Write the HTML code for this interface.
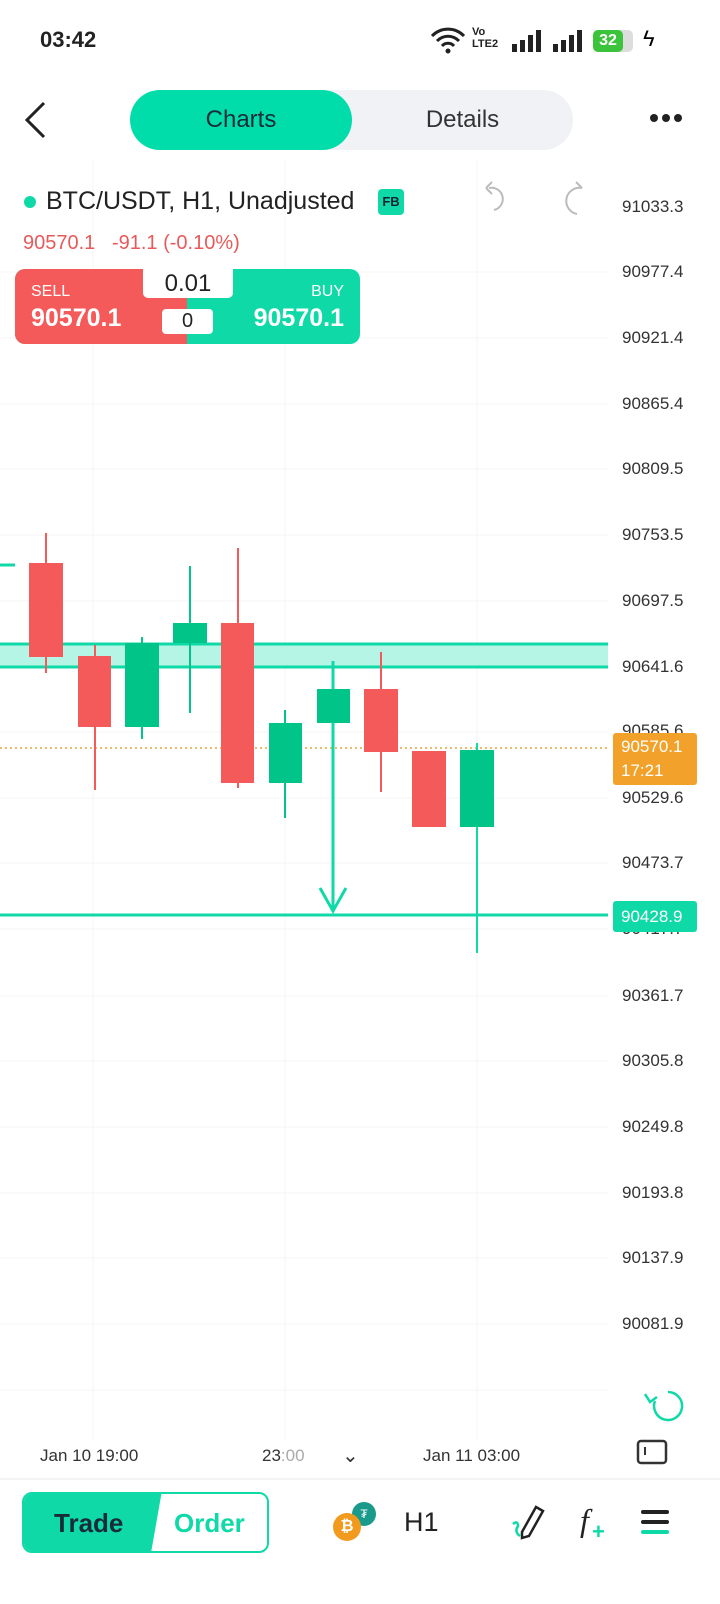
<!DOCTYPE html>
<html><head><meta charset="utf-8"><style>
body{margin:0;width:720px;height:1604px;background:#fff;font-family:"Liberation Sans",sans-serif;position:relative;overflow:hidden}
.a{position:absolute}
.pl{position:absolute;left:622px;font-size:17px;color:#333;line-height:20px}
</style></head><body>
<div class="a" style="left:40px;top:27px;font-size:22px;font-weight:bold;color:#222">03:42</div>
<svg class="a" style="left:430px;top:26px" width="36" height="28"><path d="M2 10 a22 22 0 0 1 32 0 M7 15 a15 15 0 0 1 22 0 M12 20 a8 8 0 0 1 12 0" fill="none" stroke="#222" stroke-width="3"/><circle cx="18" cy="25" r="2.5" fill="#222"/></svg>
<div class="a" style="left:472px;top:26px;font-size:11px;font-weight:bold;color:#222;line-height:12px">Vo<br>LTE2</div>
<div class="a" style="left:512px;top:30px;width:32px;height:22px;display:flex;align-items:flex-end;gap:3px"><i style="width:5px;height:8px;background:#222"></i><i style="width:5px;height:12px;background:#222"></i><i style="width:5px;height:17px;background:#222"></i><i style="width:5px;height:22px;background:#222"></i></div>
<div class="a" style="left:553px;top:30px;width:32px;height:22px;display:flex;align-items:flex-end;gap:3px"><i style="width:5px;height:8px;background:#222"></i><i style="width:5px;height:12px;background:#222"></i><i style="width:5px;height:17px;background:#222"></i><i style="width:5px;height:22px;background:#222"></i></div>
<div class="a" style="left:593px;top:30px;width:40px;height:22px;border-radius:5px;background:#ddd"><div style="width:30px;height:22px;background:#3bc43b;border-radius:5px;color:#fff;font-size:16px;font-weight:bold;text-align:center;line-height:22px">32</div></div>
<div class="a" style="left:643px;top:26px;font-size:22px">ϟ</div>

<svg class="a" style="left:22px;top:100px" width="26" height="40"><path d="M22 3 L5 20 L22 37" fill="none" stroke="#222" stroke-width="3"/></svg>
<div class="a" style="left:130px;top:90px;width:443px;height:60px;border-radius:30px;background:#f0f2f5"></div>
<div class="a" style="left:130px;top:90px;width:222px;height:60px;border-radius:30px;background:#00ddaa;text-align:center;line-height:60px;font-size:24px;color:#1a2b3a">Charts</div>
<div class="a" style="left:352px;top:90px;width:221px;height:60px;text-align:center;line-height:60px;font-size:24px;color:#333">Details</div>
<svg class="a" style="left:648px;top:112px" width="36" height="12"><circle cx="6" cy="6" r="4" fill="#222"/><circle cx="18" cy="6" r="4" fill="#222"/><circle cx="30" cy="6" r="4" fill="#222"/></svg>

<svg class="a" style="left:0;top:160px" width="720" height="1300">
<g stroke="#f5f5f5" stroke-width="1">
<line x1="93" y1="0" x2="93" y2="1280"/><line x1="285" y1="0" x2="285" y2="1280"/><line x1="477" y1="0" x2="477" y2="1280"/>
<line x1="0" y1="112" x2="608" y2="112"/><line x1="0" y1="178" x2="608" y2="178"/><line x1="0" y1="244" x2="608" y2="244"/><line x1="0" y1="309" x2="608" y2="309"/><line x1="0" y1="375" x2="608" y2="375"/><line x1="0" y1="441" x2="608" y2="441"/><line x1="0" y1="507" x2="608" y2="507"/><line x1="0" y1="572" x2="608" y2="572"/><line x1="0" y1="638" x2="608" y2="638"/><line x1="0" y1="703" x2="608" y2="703"/><line x1="0" y1="769" x2="608" y2="769"/><line x1="0" y1="836" x2="608" y2="836"/><line x1="0" y1="901" x2="608" y2="901"/><line x1="0" y1="967" x2="608" y2="967"/><line x1="0" y1="1033" x2="608" y2="1033"/><line x1="0" y1="1098" x2="608" y2="1098"/><line x1="0" y1="1164" x2="608" y2="1164"/><line x1="0" y1="1230" x2="608" y2="1230"/>
</g>
</svg>
<svg class="a" style="left:0;top:0" width="720" height="1480">
<rect x="0" y="644" width="608" height="22" fill="#b5f5e5"/>
<line x1="0" y1="644" x2="608" y2="644" stroke="#10d9a8" stroke-width="3"/>
<line x1="0" y1="667" x2="608" y2="667" stroke="#10d9a8" stroke-width="3"/>
<line x1="0" y1="565" x2="15" y2="565" stroke="#10d9a8" stroke-width="3"/>
<line x1="0" y1="748" x2="608" y2="748" stroke="#e8a33a" stroke-width="1.5" stroke-dasharray="2,3"/>
<line x1="0" y1="915" x2="608" y2="915" stroke="#10d9a8" stroke-width="3"/>
<g stroke-width="2">
<line x1="46" y1="533" x2="46" y2="673" stroke="#f55a5a"/><rect x="29" y="563" width="34" height="94" fill="#f55a5a"/>
<line x1="95" y1="645" x2="95" y2="790" stroke="#f55a5a"/><rect x="78" y="656" width="33" height="71" fill="#f55a5a"/>
<line x1="142" y1="637" x2="142" y2="739" stroke="#00c488"/><rect x="125" y="643" width="34" height="84" fill="#00c488"/>
<line x1="190" y1="566" x2="190" y2="713" stroke="#00c488"/><rect x="173" y="623" width="34" height="20" fill="#00c488"/>
<line x1="238" y1="548" x2="238" y2="788" stroke="#f55a5a"/><rect x="221" y="623" width="33" height="160" fill="#f55a5a"/>
<line x1="285" y1="710" x2="285" y2="818" stroke="#00c488"/><rect x="269" y="723" width="33" height="60" fill="#00c488"/>
<line x1="333" y1="661" x2="333" y2="912" stroke="#10d9a8" stroke-width="3"/><path d="M320 888 L333 911 L346 888" fill="none" stroke="#10d9a8" stroke-width="3"/><rect x="317" y="689" width="33" height="34" fill="#00c488"/>
<line x1="381" y1="652" x2="381" y2="792" stroke="#f55a5a"/><rect x="364" y="689" width="34" height="63" fill="#f55a5a"/>
<rect x="412" y="751" width="34" height="76" fill="#f55a5a"/>
<line x1="477" y1="743" x2="477" y2="953" stroke="#10d9a8"/><rect x="460" y="750" width="34" height="77" fill="#00c488"/>
</g>
<circle cx="30" cy="202" r="6" fill="#10d9a8"/>
<path d="M489 188 a10 10 0 1 1 5 22" fill="none" stroke="#bbb" stroke-width="2"/>
<path d="M486 188 l6 -6 M486 188 l6 6" stroke="#bbb" stroke-width="2"/>
<path d="M582 188 a10 10 0 1 0 -5 26" fill="none" stroke="#bbb" stroke-width="2"/>
<path d="M582 188 l-6 -6" stroke="#bbb" stroke-width="2"/>
<path d="M668 1392 a14 14 0 1 1 -13 9 M645 1394 l5 8 l7 -5" fill="none" stroke="#10d9a8" stroke-width="2.5"/>
<rect x="638" y="1441" width="28" height="22" rx="3" fill="none" stroke="#333" stroke-width="2.5"/><line x1="645" y1="1447" x2="645" y2="1455" stroke="#333" stroke-width="2"/>
</svg>
<div class="a" style="left:46px;top:187px;font-size:25px;color:#222">BTC/USDT, H1, Unadjusted</div>
<div class="a" style="left:378px;top:189px;width:26px;height:26px;background:#10d9a8;border-radius:4px;font-size:13px;font-weight:bold;text-align:center;line-height:26px;color:#123">FB</div>
<div class="a" style="left:23px;top:232px;font-size:20px;color:#e85a5a">90570.1 &nbsp;&nbsp;-91.1 (-0.10%)</div>
<div class="a" style="left:15px;top:269px;width:345px;height:75px;border-radius:10px;overflow:hidden;background:#10d9a8"><div style="width:172px;height:75px;background:#f55a5a"></div></div>
<div class="a" style="left:143px;top:269px;width:90px;height:29px;background:#fff;border-radius:0 0 5px 5px;text-align:center;font-size:24px;line-height:29px;color:#222">0.01</div>
<div class="a" style="left:162px;top:309px;width:51px;height:25px;background:#fff;border-radius:4px;text-align:center;font-size:20px;line-height:25px;color:#222">0</div>
<div class="a" style="left:31px;top:283px;font-size:16px;color:#fff">SELL</div>
<div class="a" style="left:31px;top:304px;font-size:25px;font-weight:bold;color:#fff">90570.1</div>
<div class="a" style="right:376px;top:283px;font-size:16px;color:#fff">BUY</div>
<div class="a" style="right:376px;top:304px;font-size:25px;font-weight:bold;color:#fff">90570.1</div>

<div class="pl" style="top:197px">91033.3</div><div class="pl" style="top:262px">90977.4</div><div class="pl" style="top:328px">90921.4</div><div class="pl" style="top:394px">90865.4</div><div class="pl" style="top:459px">90809.5</div><div class="pl" style="top:525px">90753.5</div><div class="pl" style="top:591px">90697.5</div><div class="pl" style="top:657px">90641.6</div><div class="pl" style="top:721px">90585.6</div><div class="pl" style="top:788px">90529.6</div><div class="pl" style="top:853px">90473.7</div><div class="pl" style="top:919px">90417.7</div><div class="pl" style="top:986px">90361.7</div><div class="pl" style="top:1051px">90305.8</div><div class="pl" style="top:1117px">90249.8</div><div class="pl" style="top:1183px">90193.8</div><div class="pl" style="top:1248px">90137.9</div><div class="pl" style="top:1314px">90081.9</div>
<div class="a" style="left:613px;top:733px;width:84px;height:52px;background:#f2a22a;border-radius:3px;color:#fff;font-size:17px;line-height:24px;padding-left:8px;box-sizing:border-box;padding-top:2px">90570.1<br>17:21</div>
<div class="a" style="left:613px;top:901px;width:84px;height:31px;background:#10d9a8;border-radius:3px;color:#fff;font-size:17px;line-height:31px;padding-left:8px;box-sizing:border-box">90428.9</div>

<div class="a" style="left:40px;top:1446px;font-size:17px;color:#333">Jan 10 19:00</div>
<div class="a" style="left:262px;top:1446px;font-size:17px;color:#333">23<span style="color:#aaa">:00</span></div>
<div class="a" style="left:342px;top:1443px;font-size:20px;color:#333">⌄</div>
<div class="a" style="left:423px;top:1446px;font-size:17px;color:#333">Jan 11 03:00</div>
<div class="a" style="left:0;top:1478px;width:720px;height:2px;background:#f3f3f3"></div>

<div class="a" style="left:22px;top:1492px;width:247px;height:61px;border:2.5px solid #10d9a8;border-radius:10px;box-sizing:border-box;overflow:hidden">
<div style="position:absolute;left:-20px;top:0;width:152px;height:61px;background:#10d9a8;transform:skewX(-10deg)"></div>
<div style="position:absolute;left:30px;top:14px;font-size:26px;font-weight:bold;color:#1a2b3a">Trade</div>
<div style="position:absolute;left:150px;top:14px;font-size:26px;font-weight:bold;color:#10d9a8">Order</div></div>
<div class="a" style="left:352px;top:1502px;width:24px;height:24px;border-radius:50%;background:#1a9a8a;color:#fff;font-size:12px;text-align:center;line-height:24px">₮</div>
<div class="a" style="left:333px;top:1513px;width:28px;height:28px;border-radius:50%;background:#f29a1e;color:#fff;font-size:16px;font-weight:bold;text-align:center;line-height:28px">₿</div>
<div class="a" style="left:404px;top:1507px;font-size:27px;color:#222">H1</div>
<svg class="a" style="left:508px;top:1502px" width="40" height="40"><path d="M14 30 L28 5 L35 9 L21 34 L14 36 Z" fill="none" stroke="#222" stroke-width="2.5"/><path d="M5 22 q5 -4 5 2 q-4 6 2 10" fill="none" stroke="#10d9a8" stroke-width="2.5"/></svg>
<div class="a" style="left:580px;top:1502px;font-size:32px;font-style:italic;font-family:'Liberation Serif',serif;color:#222">f</div>
<div class="a" style="left:592px;top:1519px;font-size:22px;color:#10d9a8;font-weight:bold">+</div>
<div class="a" style="left:641px;top:1510px;width:28px;height:4px;background:#222;border-radius:2px"></div>
<div class="a" style="left:641px;top:1520px;width:28px;height:4px;background:#222;border-radius:2px"></div>
<div class="a" style="left:641px;top:1530px;width:28px;height:4px;background:#10d9a8;border-radius:2px"></div>
</body></html>
